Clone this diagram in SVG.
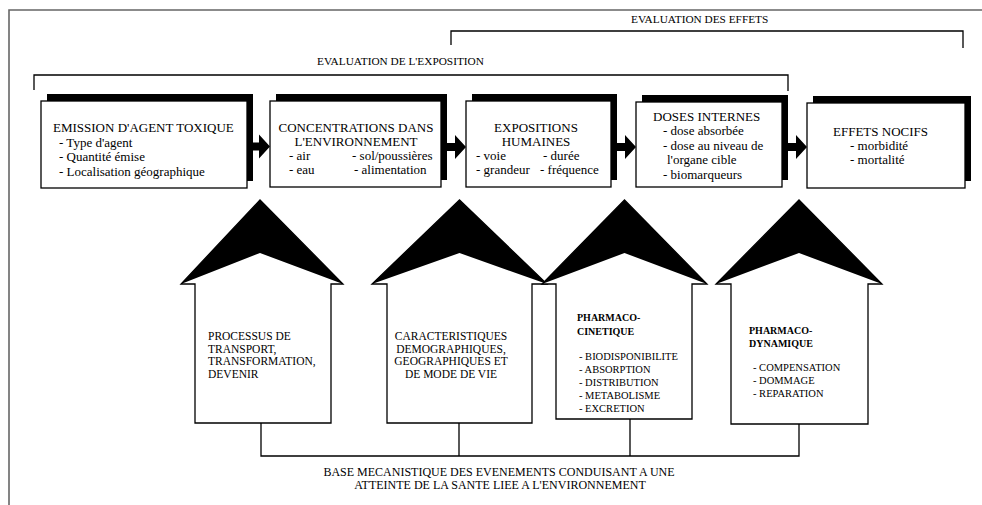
<svg xmlns="http://www.w3.org/2000/svg" width="982" height="505" viewBox="0 0 982 505">
  <style>
    .t { font-family: "Liberation Serif", "Times New Roman", serif; fill: #000; }
    .box { font-size: 13px; }
    .lbl { font-size: 11.3px; }
    .hl { font-size: 11.5px; }
    .lst { font-size: 10.5px; }
    .b { font-weight: bold; font-size: 10px; }
    .mid { text-anchor: middle; }
    .shadow { fill: #000; }
    .panel { fill: #fff; stroke: #000; stroke-width: 1.3; }
    .line { fill: none; stroke: #000; stroke-width: 1.3; }
    .frame { fill: none; stroke: #666; stroke-width: 1.6; }
    .house { fill: #fff; stroke: #000; stroke-width: 1.3; }
    .head { fill: #000; }
  </style>

  <!-- page frame -->
  <path class="frame" d="M9,505 V10 H982"/>

  <!-- assessment brackets -->
  <g id="brackets">
    <path class="line" d="M451,45 V31 H963 V48"/>
    <text class="t lbl" x="631" y="23">EVALUATION DES EFFETS</text>
    <path class="line" d="M34,90 V75 H788 V91"/>
    <text class="t lbl" x="317" y="65">EVALUATION DE L'EXPOSITION</text>
  </g>

  <!-- chain boxes -->
  <g id="emission">
    <rect class="shadow" x="47" y="94" width="206" height="87"/>
    <rect class="panel" x="41" y="101" width="206" height="87"/>
    <text class="t box" x="53" y="131.5">EMISSION D'AGENT TOXIQUE</text>
    <text class="t box" x="59" y="146.5">- Type d'agent</text>
    <text class="t box" x="59" y="161">- Quantité émise</text>
    <text class="t box" x="59" y="175.5">- Localisation géographique</text>
  </g>

  <g id="concentrations">
    <rect class="shadow" x="276" y="94" width="171" height="86"/>
    <rect class="panel" x="270" y="101" width="171" height="86"/>
    <text class="t box mid" x="356" y="132">CONCENTRATIONS DANS</text>
    <text class="t box mid" x="356" y="146">L'ENVIRONNEMENT</text>
    <text class="t box" x="289" y="160">- air</text>
    <text class="t box" x="352" y="160">- sol/poussières</text>
    <text class="t box" x="289" y="174">- eau</text>
    <text class="t box" x="354" y="174">- alimentation</text>
  </g>

  <g id="expositions">
    <rect class="shadow" x="472" y="94" width="145" height="86"/>
    <rect class="panel" x="466" y="101" width="145" height="86"/>
    <text class="t box mid" x="536" y="132">EXPOSITIONS</text>
    <text class="t box mid" x="536" y="146">HUMAINES</text>
    <text class="t box" x="476" y="160">- voie</text>
    <text class="t box" x="543" y="160">- durée</text>
    <text class="t box" x="476" y="174">- grandeur</text>
    <text class="t box" x="540" y="174">- fréquence</text>
  </g>

  <g id="doses">
    <rect class="shadow" x="642" y="95" width="146" height="85"/>
    <rect class="panel" x="636" y="102" width="146" height="85"/>
    <text class="t box" x="653" y="121">DOSES INTERNES</text>
    <text class="t box" x="663" y="135">- dose absorbée</text>
    <text class="t box" x="663" y="150">- dose au niveau de</text>
    <text class="t box" x="667" y="164">l'organe cible</text>
    <text class="t box" x="663" y="179">- biomarqueurs</text>
  </g>

  <g id="effets">
    <rect class="shadow" x="813" y="96" width="158" height="85"/>
    <rect class="panel" x="807" y="103" width="158" height="85"/>
    <text class="t box" x="833" y="136">EFFETS NOCIFS</text>
    <text class="t box" x="850" y="150">- morbidité</text>
    <text class="t box" x="850" y="164">- mortalité</text>
  </g>

  <!-- mechanism houses -->
  <g id="transport">
    <path class="house" d="M195,423 V284 H181 L260,200 L343,284 H331 V423 Z"/>
    <path class="head" d="M181,284 L260,200 L343,284 L260,253 Z"/>
    <text class="t hl" x="208" y="340">PROCESSUS DE</text>
    <text class="t hl" x="208" y="352.5">TRANSPORT,</text>
    <text class="t hl" x="208" y="365">TRANSFORMATION,</text>
    <text class="t hl" x="208" y="377.5">DEVENIR</text>
  </g>

  <g id="caracteristiques">
    <path class="house" d="M387,423 V284 H372 L459.5,200 L547,284 H532 V423 Z"/>
    <path class="head" d="M372,284 L459.5,200 L547,284 L459.5,253 Z"/>
    <text class="t hl mid" x="451" y="340">CARACTERISTIQUES</text>
    <text class="t hl mid" x="451" y="352.5">DEMOGRAPHIQUES,</text>
    <text class="t hl mid" x="451" y="365">GEOGRAPHIQUES ET</text>
    <text class="t hl mid" x="451" y="377.5">DE MODE DE VIE</text>
  </g>

  <g id="pharmacocinetique">
    <path class="house" d="M556,419 V284 H542 L624.5,200 L707,284 H692 V419 Z"/>
    <path class="head" d="M542,284 L624.5,200 L707,284 L624.5,253 Z"/>
    <text class="t b" x="577" y="321">PHARMACO-</text>
    <text class="t b" x="577" y="335">CINETIQUE</text>
    <text class="t lst" x="579" y="360">- BIODISPONIBILITE</text>
    <text class="t lst" x="579" y="373">- ABSORPTION</text>
    <text class="t lst" x="579" y="386">- DISTRIBUTION</text>
    <text class="t lst" x="579" y="399">- METABOLISME</text>
    <text class="t lst" x="579" y="412">- EXCRETION</text>
  </g>

  <g id="pharmacodynamique">
    <path class="house" d="M731,424 V284 H716 L799,200 L882,284 H868 V424 Z"/>
    <path class="head" d="M716,284 L799,200 L882,284 L799,253 Z"/>
    <text class="t b" x="749" y="334">PHARMACO-</text>
    <text class="t b" x="749" y="347">DYNAMIQUE</text>
    <text class="t lst" x="753" y="371">- COMPENSATION</text>
    <text class="t lst" x="753" y="384">- DOMMAGE</text>
    <text class="t lst" x="753" y="397">- REPARATION</text>
  </g>

  <g id="base">
    <text class="t mid" font-size="12" x="499" y="476">BASE MECANISTIQUE DES EVENEMENTS CONDUISANT A UNE</text>
    <text class="t mid" font-size="12" x="500" y="489">ATTEINTE DE LA SANTE LIEE A L'ENVIRONNEMENT</text>
  </g>

  <!-- connectors -->
  <g id="connectors">
    <path class="head" d="M253,142.5 H259 V134.5 L270,146.5 L259,158.5 V150.5 H253 Z"/>
    <path class="head" d="M447,143 H455 V135 L466,147 L455,159 V151 H447 Z"/>
    <path class="head" d="M617,143 H625 V135 L636,147 L625,159 V151 H617 Z"/>
    <path class="head" d="M788,143 H796 V135 L807,147 L796,159 V151 H788 Z"/>
    <path class="line" d="M261,423 V456 H799 V424 M459,423 V456 M630,419 V456"/>
  </g>
</svg>
